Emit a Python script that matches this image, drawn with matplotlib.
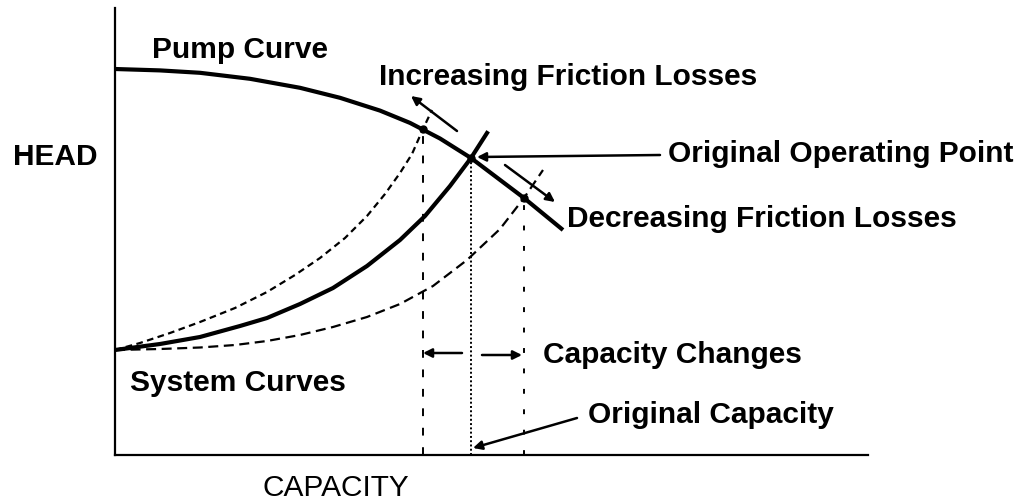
import numpy as np
import matplotlib
matplotlib.use("Agg")
import matplotlib.pyplot as plt

# capacity / head (arbitrary units)
pump_q = [0, 45, 85, 135, 185, 225, 265, 295, 325, 356, 409, 448]
pump_h = [386, 384.6, 382.2, 376.2, 367.2, 357.2, 344.4, 332.1, 316.5, 297, 257, 225]

sys_q = [0, 45, 85, 125, 152, 185, 218, 252, 285, 310, 335, 356, 372]
sys_h = [105, 111, 118, 129, 137, 151, 167, 189, 215, 239, 269, 297, 322]

sys_hi_q = [0, 25, 55, 85, 120, 152, 180, 205, 230, 252, 270, 285, 297, 308, 317]
sys_hi_h = [105, 112, 122, 133, 147, 163, 180, 197, 217, 239, 261, 282, 301, 326, 345]

sys_lo_q = [0, 45, 85, 120, 152, 185, 218, 252, 285, 318, 352, 385, 409, 428]
sys_lo_h = [105, 106, 107.5, 110, 114, 120, 128, 138, 151, 169, 195, 226, 257, 285]

# operating points: increased friction, original, decreased friction
op_q = [308, 356, 409]
op_h = [326, 297, 257]

plt.rcParams['font.family'] = ['Liberation Sans', 'DejaVu Sans']

fig = plt.figure(figsize=(10.19, 5.04), dpi=100)
ax = fig.add_axes([115 / 1019, 49 / 504, 753 / 1019, 447 / 504])
ax.set_xlim(0, 753)
ax.set_ylim(0, 447)
for s in ['top', 'right']:
    ax.spines[s].set_visible(False)
for s in ['left', 'bottom']:
    ax.spines[s].set_linewidth(1.6)
ax.set_xticks([])
ax.set_yticks([])

ax.plot(pump_q, pump_h, color='black', lw=3.0, solid_capstyle='butt')
ax.plot(sys_q, sys_h, color='black', lw=3.0)
ax.plot(sys_hi_q, sys_hi_h, color='black', lw=1.6, dashes=(3, 2))
ax.plot(sys_lo_q, sys_lo_h, color='black', lw=1.6, dashes=(4.5, 2.5))
ax.plot(op_q, op_h, 'o', color='black', ms=5)

# drop lines to the capacity axis
ax.plot([op_q[0], op_q[0]], [0, op_h[0]], color='black', lw=1.4, dashes=(4, 6))
ax.plot([op_q[1], op_q[1]], [0, op_h[1]], color='black', lw=1.4, dashes=(1, 1.2))
ax.plot([op_q[2], op_q[2]], [0, op_h[2]], color='black', lw=1.4, dashes=(2.5, 8))

fs = 21.5
kw = dict(fontsize=fs, fontweight='bold', va='center', ha='left', clip_on=False)
ax.text(37, 405, 'Pump Curve', **kw)
ax.text(264, 378, 'Increasing Friction Losses', **kw)
ax.text(-102, 298, 'HEAD', **kw)
ax.text(553, 301, 'Original Operating Point', **kw)
ax.text(452, 236, 'Decreasing Friction Losses', **kw)
ax.text(428, 100, 'Capacity Changes', **kw)
ax.text(15, 72, 'System Curves', **kw)
ax.text(473, 40, 'Original Capacity', **kw)
ax.text(148, -33, 'CAPACITY', fontsize=fs, va='center', ha='left', clip_on=False)

ap = dict(arrowstyle='-|>', color='black', lw=1.8, mutation_scale=13, shrinkA=0, shrinkB=0)
ax.annotate('', xy=(296, 359), xytext=(342, 324), arrowprops=ap)
ax.annotate('', xy=(440, 253), xytext=(390, 290), arrowprops=ap)
ax.annotate('', xy=(362, 298), xytext=(545, 300), arrowprops=ap)
ax.annotate('', xy=(308, 102), xytext=(347, 102), arrowprops=ap)
ax.annotate('', xy=(407, 100), xytext=(367, 100), arrowprops=ap)
ax.annotate('', xy=(358, 7), xytext=(462, 37), arrowprops=ap, annotation_clip=False)

fig.savefig('out.png', dpi=100)
